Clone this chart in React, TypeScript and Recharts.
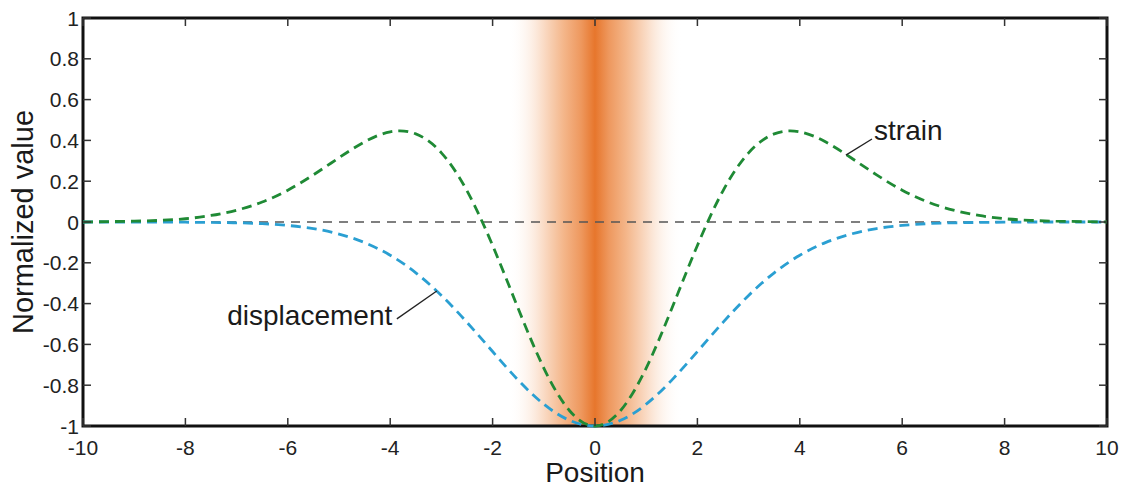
import React from 'react';
import {
  LineChart,
  Line,
  XAxis,
  YAxis,
  ReferenceArea,
  ReferenceLine,
  ReferenceDot,
  Label,
} from 'recharts';

const positions = [
  -10, -9.5, -9, -8.5, -8, -7.5, -7, -6.5, -6, -5.5, -5, -4.5, -4, -3.5, -3, -2.5, -2, -1.5, -1, -0.5,
  0, 0.5, 1, 1.5, 2, 2.5, 3, 3.5, 4, 4.5, 5, 5.5, 6, 6.5, 7, 7.5, 8, 8.5, 9, 9.5, 10,
];

const strain = [
  0, 0.002, 0.004, 0.008, 0.016, 0.032, 0.058, 0.098, 0.156, 0.231, 0.315, 0.393, 0.442, 0.432, 0.339, 0.153,
  -0.115, -0.424, -0.716, -0.924, -1, -0.924, -0.716, -0.424, -0.115, 0.153, 0.339, 0.432, 0.442, 0.393, 0.315,
  0.231, 0.156, 0.098, 0.058, 0.032, 0.016, 0.008, 0.004, 0.002, 0,
];

const displacement = [
  0, 0, 0, 0, -0.001, -0.002, -0.004, -0.008, -0.017, -0.032, -0.059, -0.101, -0.163, -0.249, -0.36, -0.492,
  -0.635, -0.775, -0.893, -0.972, -1, -0.972, -0.893, -0.775, -0.635, -0.492, -0.36, -0.249, -0.163, -0.101,
  -0.059, -0.032, -0.017, -0.008, -0.004, -0.002, -0.001, 0, 0, 0, 0,
];

const xTicks = [-10, -8, -6, -4, -2, 0, 2, 4, 6, 8, 10];
const yTicks = [-1, -0.8, -0.6, -0.4, -0.2, 0, 0.2, 0.4, 0.6, 0.8, 1];

// fault zone band, centred on 0
const bandFrom = -1.7;
const bandTo = 1.7;

const data = positions.map((x, i) => ({ x, strain: strain[i], displacement: displacement[i] }));

const W = 1121;
const H = 488;
const M = { top: 18, right: 14, left: 0, bottom: 0 };
const Y_W = 83;
const X_H = 62;
const TOP = M.top;
const RIGHT = W - M.right;
const FONT = 'Liberation Sans, Arial, Helvetica, sans-serif';
const TICK = '#333';

const XTick = (props: any) => {
  const { x, y, payload } = props;
  return (
    <g>
      <line x1={x} y1={y} x2={x} y2={y - 8} stroke={TICK} strokeWidth={1.5} />
      <line x1={x} y1={TOP} x2={x} y2={TOP + 8} stroke={TICK} strokeWidth={1.5} />
      <text x={x} y={y + 21} textAnchor="middle" dominantBaseline="central" fontSize={21} fill="#222" fontFamily={FONT}>
        {payload.value}
      </text>
    </g>
  );
};

const YTick = (props: any) => {
  const { x, y, payload } = props;
  return (
    <g>
      <line x1={x} y1={y} x2={x + 8} y2={y} stroke={TICK} strokeWidth={1.5} />
      <line x1={RIGHT - 8} y1={y} x2={RIGHT} y2={y} stroke={TICK} strokeWidth={1.5} />
      <text x={x - 4} y={y} textAnchor="end" dominantBaseline="central" fontSize={21} fill="#222" fontFamily={FONT}>
        {payload.value}
      </text>
    </g>
  );
};

const noteText = (value: string, anchor: 'start' | 'end') => (props: any) => {
  const vb = props.viewBox || {};
  return (
    <text x={vb.x} y={vb.y} textAnchor={anchor} fontSize={28} fill="#1a1a1a" fontFamily={FONT}>
      {value}
    </text>
  );
};

export default function App() {
  return (
    <div style={{ position: 'absolute', left: 0, top: 0, background: '#fff' }}>
      <LineChart width={W} height={H} data={data} margin={M}>
        <defs>
          <linearGradient id="band" x1="0" y1="0" x2="1" y2="0">
            <stop offset="0%" stopColor="#fff" stopOpacity={0} />
            <stop offset="18%" stopColor="#fbe3d2" />
            <stop offset="32%" stopColor="#f4b68a" />
            <stop offset="42%" stopColor="#ee985e" />
            <stop offset="50%" stopColor="#e7762c" />
            <stop offset="58%" stopColor="#ee985e" />
            <stop offset="68%" stopColor="#f4b68a" />
            <stop offset="82%" stopColor="#fbe3d2" />
            <stop offset="100%" stopColor="#fff" stopOpacity={0} />
          </linearGradient>
        </defs>
        <XAxis
          dataKey="x"
          type="number"
          domain={[-10, 10]}
          ticks={xTicks}
          height={X_H}
          axisLine={false}
          tickLine={false}
          tickSize={0}
          tickMargin={0}
          tick={<XTick />}
          interval={0}
        >
          <Label
            content={(p: any) => {
              const vb = p.viewBox;
              return (
                <text x={vb.x + vb.width / 2} y={H - 6} textAnchor="middle" fontSize={28} fill="#1a1a1a" fontFamily={FONT}>
                  Position
                </text>
              );
            }}
          />
        </XAxis>
        <YAxis
          type="number"
          domain={[-1, 1]}
          ticks={yTicks}
          width={Y_W}
          axisLine={false}
          tickLine={false}
          tickSize={0}
          tickMargin={0}
          tick={<YTick />}
          interval={0}
        >
          <Label
            content={(p: any) => {
              const vb = p.viewBox;
              const cy = vb.y + vb.height / 2;
              return (
                <text
                  x={23}
                  y={cy}
                  transform={`rotate(-90, 23, ${cy})`}
                  textAnchor="middle"
                  dominantBaseline="central"
                  fontSize={29}
                  fill="#1a1a1a"
                  fontFamily={FONT}
                >
                  Normalized value
                </text>
              );
            }}
          />
        </YAxis>
        <ReferenceArea x1={bandFrom} x2={bandTo} y1={-1} y2={1} fill="url(#band)" fillOpacity={1} stroke="none" />
        <ReferenceLine y={0} stroke="#555" strokeWidth={1.5} strokeDasharray="9 7" />
        <Line
          dataKey="displacement"
          type="natural"
          stroke="#2a9fd2"
          strokeWidth={2.8}
          strokeDasharray="10 6"
          dot={false}
          isAnimationActive={false}
        />
        <Line
          dataKey="strain"
          type="natural"
          stroke="#1f8a35"
          strokeWidth={2.8}
          strokeDasharray="10 6"
          dot={false}
          isAnimationActive={false}
        />
        <ReferenceLine
          segment={[
            { x: 4.9, y: 0.328 },
            { x: 5.41, y: 0.407 },
          ]}
          stroke="#222"
          strokeWidth={1.3}
        />
        <ReferenceDot x={5.45} y={0.4} r={0} fill="none" stroke="none" label={noteText('strain', 'start')} />
        <ReferenceLine
          segment={[
            { x: -3.87, y: -0.475 },
            { x: -3.09, y: -0.338 },
          ]}
          stroke="#222"
          strokeWidth={1.3}
        />
        <ReferenceDot x={-3.96} y={-0.505} r={0} fill="none" stroke="none" label={noteText('displacement', 'end')} />
        <ReferenceArea x1={-10} x2={10} y1={-1} y2={1} fill="none" stroke="#111" strokeWidth={3} ifOverflow="visible" />
      </LineChart>
    </div>
  );
}
